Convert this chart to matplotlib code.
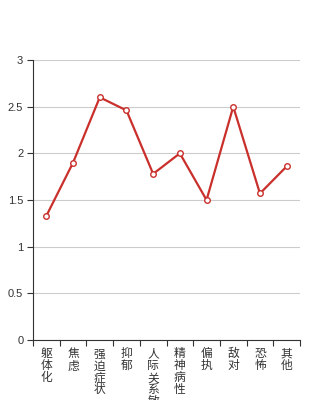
import matplotlib
matplotlib.use("Agg")
import matplotlib.pyplot as plt
import numpy as np

categories = ["躯体化", "焦虑", "强迫症状", "抑郁", "人际关系敏感",
              "精神病性", "偏执", "敌对", "恐怖", "其他"]
values = [1.33, 1.90, 2.60, 2.46, 1.78, 2.00, 1.50, 2.50, 1.57, 1.86]
yticks = [0, 0.5, 1, 1.5, 2, 2.5, 3]
ytick_labels = ["0", "0.5", "1", "1.5", "2", "2.5", "3"]

plt.rcParams['font.family'] = ['Liberation Sans', 'Noto Sans CJK SC', 'DejaVu Sans']

fig = plt.figure(figsize=(3.34, 4.0), dpi=100)
ax = fig.add_axes([33 / 334, 0.15, 267 / 334, 0.70])

x = np.arange(len(categories))
ax.plot(x, values, color="#c9302c", linewidth=1.6, marker="o",
        markersize=4, markerfacecolor="white", markeredgecolor="#c9302c",
        markeredgewidth=1.0, zorder=3)

ax.set_xlim(-0.5, len(categories) - 0.5)
ax.set_ylim(0, 3)
ax.set_yticks(yticks)
ax.set_yticklabels(ytick_labels, fontsize=8, color="#333333")
ax.yaxis.grid(True, color="#cccccc", linewidth=0.8)
ax.set_axisbelow(True)

# category boundary ticks on x axis
ax.set_xticks(np.arange(-0.5, len(categories), 1.0))
ax.set_xticklabels([])
ax.set_xticks(x, minor=True)
ax.set_xticklabels(["\n".join(c) for c in categories], minor=True,
                   fontsize=8.5, color="#333333", linespacing=1.0,
                   va="top")
ax.tick_params(axis="x", which="minor", length=0, pad=6)
ax.tick_params(axis="x", which="major", length=4, width=0.8, color="#333333")
ax.tick_params(axis="y", length=4, width=0.8, color="#333333", pad=3)

for s in ["top", "right"]:
    ax.spines[s].set_visible(False)
for s in ["left", "bottom"]:
    ax.spines[s].set_color("#333333")
    ax.spines[s].set_linewidth(0.8)

fig.savefig("out.png", dpi=100)
